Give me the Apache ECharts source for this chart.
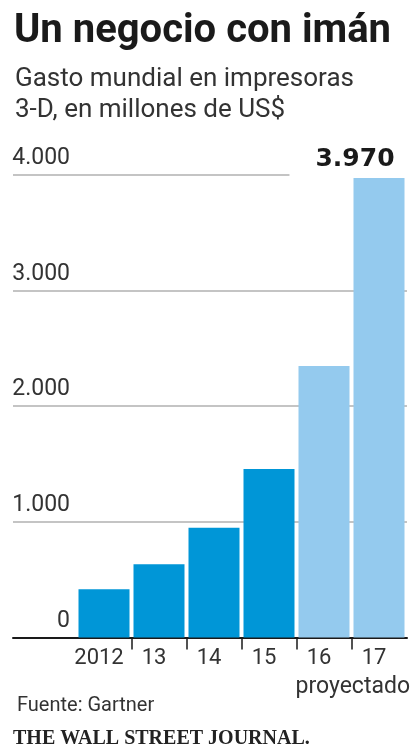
<!DOCTYPE html>
<html>
<head>
<meta charset="utf-8">
<script src="https://cdn.jsdelivr.net/npm/echarts@6/dist/echarts.min.js"></script>
<style>
html,body{margin:0;padding:0;background:#fff;}
#chart{width:420px;height:756px;}
</style>
</head>
<body>
<div id="chart"></div>
<script>
// ---- data ----
var titleText = 'Un negocio con imán';
var subtitleText = 'Gasto mundial en impresoras\n3-D, en millones de US$';
var sourceText = 'Fuente: Gartner';
var creditText = 'THE WALL STREET JOURNAL.';
var projectedNote = 'proyectado';
var categories = ['2012', '13', '14', '15', '16', '17'];
var values = [416, 632, 948, 1455, 2345, 3970];
var projected = [false, false, false, false, true, true];
var yTicks = [0, 1000, 2000, 3000, 4000];
var labeledIndex = 5;

var DARK = '#0096d7';
var LIGHT = '#94caee';
var FONT = 'Roboto, "Noto Sans", sans-serif';

function fmt(v) {
  return String(v).replace(/\B(?=(\d{3})+(?!\d))/g, '.');
}

var chart = echarts.init(document.getElementById('chart'), null, {renderer: 'canvas'});

var option = {
  animation: false,
  backgroundColor: '#fff',
  title: [
    {text: titleText, left: 9, top: 7,
     textStyle: {fontFamily: FONT, fontSize: 40, fontWeight: 'bold', color: '#1a1a1a'}},
    {text: subtitleText, left: 10, top: 59,
     textStyle: {fontFamily: FONT, fontSize: 26, fontWeight: 'normal', color: '#333', lineHeight: 31}},
    {text: sourceText, left: 12, top: 691,
     textStyle: {fontFamily: FONT, fontSize: 20, fontWeight: 'normal', color: '#333'}},
    {text: creditText, left: 8, top: 724,
     textStyle: {fontFamily: '"Liberation Serif", "DejaVu Serif", serif', fontSize: 20, fontWeight: 'bold', color: '#222'}},
    {text: projectedNote, right: 5, top: 671,
     textStyle: {fontFamily: FONT, fontSize: 23, fontWeight: 'normal', color: '#333'}}
  ],
  grid: [
    {left: 13, right: 13, top: 174.5, bottom: 118.5, outerBoundsMode: 'none', containLabel: false},
    {left: 76.5, width: 55 * (categories.length + 1), top: 174.5, bottom: 118.5, outerBoundsMode: 'none', containLabel: false}
  ],
  xAxis: [
    {gridIndex: 0, type: 'value', min: 0, max: 1,
     axisLine: {show: true, onZero: true, lineStyle: {color: '#1a1a1a', width: 2}},
     axisTick: {show: false}, axisLabel: {show: false}, splitLine: {show: false}},
    {gridIndex: 1, type: 'category', data: categories.concat(['']),
     boundaryGap: true,
     axisLine: {show: false},
     axisTick: {show: true, length: 12, interval: function (i) { return i >= 1 && i < categories.length; },
                lineStyle: {color: '#1a1a1a', width: 1.5}},
     axisLabel: {interval: 0, margin: 10, fontFamily: FONT, fontSize: 22, color: '#333', padding: [0, 10, 0, 0]}}
  ],
  yAxis: [
    {gridIndex: 0, type: 'value', min: yTicks[0], max: yTicks[yTicks.length - 1], interval: yTicks[1] - yTicks[0],
     axisLine: {show: false}, axisTick: {show: false},
     splitLine: {show: true, lineStyle: {color: '#c4c4c4', width: 2}},
     axisLabel: {margin: -57, align: 'right', verticalAlign: 'bottom', padding: [0, 0, 5, 0],
                 fontFamily: FONT, fontSize: 23, color: '#333',
                 formatter: function (v) { return fmt(v); }}},
    {gridIndex: 1, type: 'value', min: yTicks[0], max: yTicks[yTicks.length - 1], interval: yTicks[1] - yTicks[0],
     show: false}
  ],
  series: [{
    type: 'bar',
    xAxisIndex: 1, yAxisIndex: 1,
    barWidth: 51,
    data: values.map(function (v, i) {
      return {
        value: v,
        itemStyle: {color: projected[i] ? LIGHT : DARK},
        label: {show: i === labeledIndex}
      };
    }),
    label: {
      position: 'top', distance: 0,
      formatter: function (p) { return fmt(p.value); },
      fontFamily: '"DejaVu Sans", sans-serif', fontSize: 25, fontWeight: 'bold', color: '#1a1a1a',
      backgroundColor: '#fff', padding: [2, 14, 6, 26], offset: [-30, 0]
    }
  }]
};
chart.setOption(option);
</script>
</body>
</html>
